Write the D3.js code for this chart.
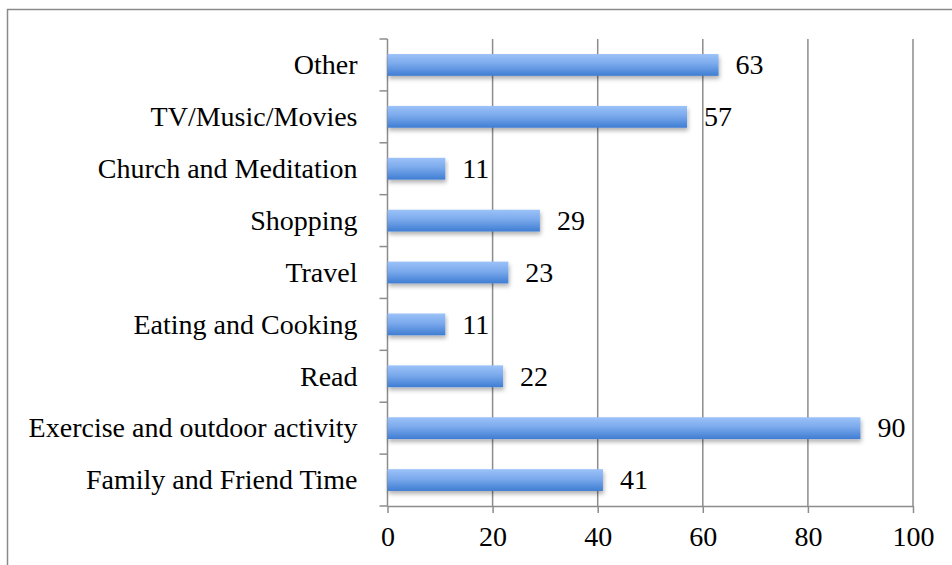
<!DOCTYPE html>
<html>
<head>
<meta charset="utf-8">
<script src="https://cdn.jsdelivr.net/npm/d3@7"></script>
<style>
  body { margin: 0; background: #fff; }
  text { font-family: "Liberation Serif", "DejaVu Serif", serif; fill: #000; }
</style>
</head>
<body>
<div id="chart"></div>
<script>
var categories = ["Other", "TV/Music/Movies", "Church and Meditation", "Shopping", "Travel",
  "Eating and Cooking", "Read", "Exercise and outdoor activity", "Family and Friend Time"];
var values = [63, 57, 11, 29, 23, 11, 22, 90, 41];
var xTicks = [0, 20, 40, 60, 80, 100];

var W = 952, H = 565;
var margin = { top: 39, left: 387.5, right: 39, bottom: 59 };
var width = 913 - margin.left,
  height = 506 - margin.top;
var fontSize = "28px";

var svg = d3.select("#chart").append("svg")
  .attr("width", W)
  .attr("height", H);

var defs = svg.append("defs");
var grad = defs.append("linearGradient")
  .attr("id", "barGrad")
  .attr("x1", 0).attr("y1", 0).attr("x2", 0).attr("y2", 1);
grad.append("stop").attr("offset", "0%").attr("stop-color", "#9cc2f8");
grad.append("stop").attr("offset", "45%").attr("stop-color", "#7aa9ec");
grad.append("stop").attr("offset", "100%").attr("stop-color", "#3f7dd2");

var shadow = defs.append("filter").attr("id", "shadow")
  .attr("x", "-5%").attr("y", "-20%").attr("width", "110%").attr("height", "160%");
shadow.append("feDropShadow")
  .attr("dx", 1).attr("dy", 3).attr("stdDeviation", 2)
  .attr("flood-color", "#000").attr("flood-opacity", 0.3);

// outer frame
svg.append("rect")
  .attr("x", 7.5).attr("y", 9.5)
  .attr("width", 960).attr("height", 600)
  .attr("fill", "none")
  .attr("stroke", "#8a8a8a")
  .attr("stroke-width", 1.5);

var g = svg.append("g")
  .attr("transform", "translate(" + margin.left + "," + margin.top + ")");

var x = d3.scaleLinear().domain([0, 100]).range([0, width]);
var y = d3.scaleBand().domain(categories).range([0, height]).paddingInner(0.58).paddingOuter(0.29);
var yb = d3.scaleBand().domain(categories).range([0, height]);

// grid lines
g.append("g")
  .selectAll("line")
  .data(xTicks.slice(1))
  .enter().append("line")
  .attr("x1", function(d) { return x(d); })
  .attr("x2", function(d) { return x(d); })
  .attr("y1", 0)
  .attr("y2", height)
  .attr("stroke", "#8c8c8c")
  .attr("stroke-width", 1.5);

// x axis
var xAxis = d3.axisBottom(x).tickValues(xTicks).tickSizeInner(7).tickSizeOuter(0).tickPadding(13);
var gx = g.append("g")
  .attr("transform", "translate(0," + height + ")")
  .call(xAxis);
gx.select(".domain").attr("stroke", "#8c8c8c").attr("stroke-width", 1.5);
gx.selectAll(".tick line").attr("stroke", "#8c8c8c").attr("stroke-width", 1.5);
gx.selectAll("text").style("font-size", fontSize).attr("fill", "#000");

// y axis: ticks between categories
var boundaries = categories.map(function(c) { return yb(c); }).concat([height]);
g.append("line")
  .attr("x1", 0).attr("x2", 0).attr("y1", 0).attr("y2", height)
  .attr("stroke", "#8c8c8c").attr("stroke-width", 1.5);
g.append("g")
  .selectAll("line")
  .data(boundaries)
  .enter().append("line")
  .attr("x1", -8).attr("x2", 0)
  .attr("y1", function(d) { return d; })
  .attr("y2", function(d) { return d; })
  .attr("stroke", "#8c8c8c").attr("stroke-width", 1.5);

g.append("g")
  .selectAll("text")
  .data(categories)
  .enter().append("text")
  .attr("x", -30)
  .attr("y", function(d) { return yb(d) + yb.bandwidth() / 2; })
  .attr("dy", "0.33em")
  .attr("text-anchor", "end")
  .style("font-size", fontSize)
  .text(function(d) { return d; });

// bars
g.append("g")
  .selectAll("rect")
  .data(values)
  .enter().append("rect")
  .attr("x", 0)
  .attr("y", function(d, i) { return y(categories[i]); })
  .attr("width", function(d) { return x(d); })
  .attr("height", y.bandwidth())
  .attr("fill", "url(#barGrad)")
  .attr("filter", "url(#shadow)");

// value labels
g.append("g")
  .selectAll("text")
  .data(values)
  .enter().append("text")
  .attr("x", function(d) { return x(d) + 17; })
  .attr("y", function(d, i) { return yb(categories[i]) + yb.bandwidth() / 2; })
  .attr("dy", "0.33em")
  .style("font-size", fontSize)
  .text(function(d) { return d; });
</script>
</body>
</html>
